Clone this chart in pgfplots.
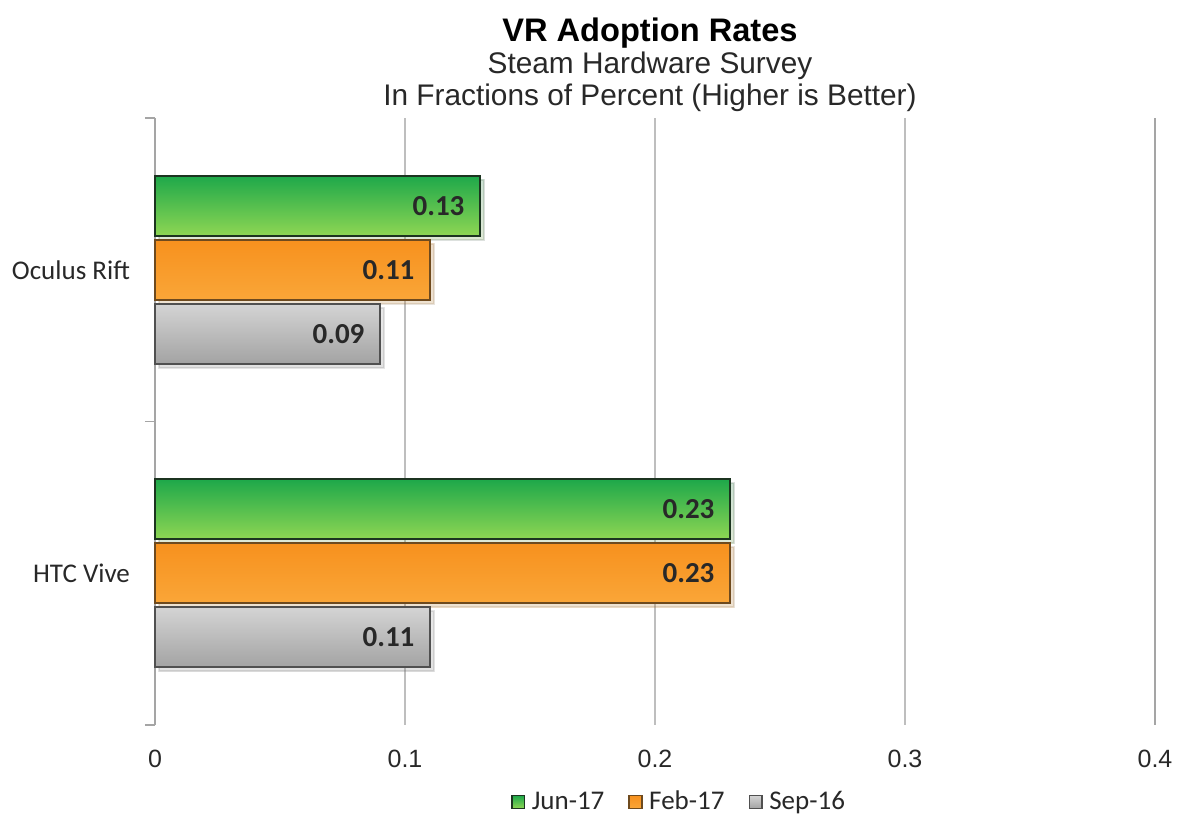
\documentclass[border=0pt]{standalone}
\usepackage{pgfplots}
\pgfplotsset{compat=1.18}
\usetikzlibrary{shadows}
\usepackage{fontspec}
\setmainfont{Carlito}
\newfontfamily\arial{Liberation Sans}
\definecolor{gtop}{RGB}{30,168,74}
\definecolor{gbot}{RGB}{142,214,83}
\definecolor{gedge}{RGB}{28,52,32}
\definecolor{otop}{RGB}{247,145,30}
\definecolor{obot}{RGB}{250,166,56}
\definecolor{oedge}{RGB}{110,74,30}
\definecolor{stop}{RGB}{212,212,212}
\definecolor{sbot}{RGB}{163,163,163}
\definecolor{sedge}{RGB}{80,80,80}
\definecolor{gridc}{RGB}{190,190,190}
\definecolor{axc}{RGB}{165,165,165}
\definecolor{txt}{RGB}{40,40,40}
\pgfplotsset{
  jun/.style={bar shift=0.2109, draw=gedge, line width=0.9pt, top color=gtop, bottom color=gbot,
    drop shadow={shadow xshift=2pt, shadow yshift=-2pt, opacity=0.15}},
  feb/.style={bar shift=0, draw=oedge, line width=0.9pt, top color=otop, bottom color=obot,
    drop shadow={shadow xshift=2pt, shadow yshift=-2pt, opacity=0.15}},
  sep/.style={bar shift=-0.2109, draw=sedge, line width=0.9pt, top color=stop, bottom color=sbot,
    drop shadow={shadow xshift=2pt, shadow yshift=-2pt, opacity=0.15}},
}
\begin{document}
\begin{tikzpicture}
\begin{axis}[
  scale only axis,
  width=500pt, height=303.5pt,
  xbar, bar width=0.1977,
  xmin=0, xmax=0.4,
  ymin=-0.5, ymax=1.5,
  xtick={0,0.1,0.2,0.3,0.4},
  xticklabels={0,0.1,0.2,0.3,0.4},
  xticklabel style={font=\arial\fontsize{12.5}{14}\selectfont, text=txt, yshift=-4pt},
  xtick style={draw=none},
  xmajorgrids,
  grid style={gridc, line width=0.6pt},
  ytick={-0.5,0.5,1.5},
  yticklabels={},
  ytick pos=left,
  tick align=outside,
  major tick length=5pt,
  ytick style={axc, line width=0.6pt},
  extra y ticks={0,1},
  extra y tick labels={HTC Vive,Oculus Rift},
  extra y tick style={major tick length=0pt, yticklabel style={font=\fontsize{13.5}{15}\selectfont, text=txt, xshift=-9pt}},
  separate axis lines,
  x axis line style={draw=none},
  y axis line style={draw=axc, line width=0.6pt},
  clip=false,
  nodes near coords={\pgfmathprintnumber[fixed, fixed zerofill, precision=2, assume math mode=true]{\pgfplotspointmeta}},
  every node near coord/.append style={anchor=east, xshift=-4pt, font=\bfseries\fontsize{14.5}{16}\selectfont, text=txt},
  legend style={at={(rel axis cs:0.525,-0.127)}, anchor=center, legend columns=3, draw=none, fill=none,
    font=\fontsize{13.5}{15}\selectfont, text=txt,
    /tikz/every even column/.append style={column sep=10pt}},
  legend image code/.code={\draw[#1, line width=0.8pt] (0pt,-3.2pt) rectangle (6.4pt,3.2pt); \path[draw=none, fill=none, shade=false] (0pt,0pt) -- (8pt,0pt);},
]
\addlegendimage{draw=gedge, top color=gtop, bottom color=gbot}
\addlegendentry{Jun-17}
\addlegendimage{draw=oedge, top color=otop, bottom color=obot}
\addlegendentry{Feb-17}
\addlegendimage{draw=sedge, top color=stop, bottom color=sbot}
\addlegendentry{Sep-16}
\addplot+[jun, forget plot] coordinates {(0.13,1)};
\addplot+[feb, forget plot] coordinates {(0.11,1)};
\addplot+[sep, forget plot] coordinates {(0.09,1)};
\addplot+[jun, forget plot] coordinates {(0.23,0)};
\addplot+[feb, forget plot] coordinates {(0.23,0)};
\addplot+[sep, forget plot] coordinates {(0.11,0)};
\node[font=\arial\bfseries\fontsize{16.3}{18}\selectfont, text=black] at (rel axis cs:0.495,1) [yshift=42.5pt] {VR Adoption Rates};
\node[font=\arial\fontsize{14.9}{17}\selectfont, text=txt] at (rel axis cs:0.495,1) [yshift=26pt] {Steam Hardware Survey};
\node[font=\arial\fontsize{14.9}{17}\selectfont, text=txt] at (rel axis cs:0.495,1) [yshift=10pt] {In Fractions of Percent (Higher is Better)};
\coordinate (SW) at (rel axis cs:0,0);
\coordinate (NE) at (rel axis cs:1,1);
\end{axis}
\pgfresetboundingbox
\path ([shift={(-77.5pt,-45.5pt)}]SW) rectangle ([shift={(11.5pt,59pt)}]NE);
\end{tikzpicture}
\end{document}
